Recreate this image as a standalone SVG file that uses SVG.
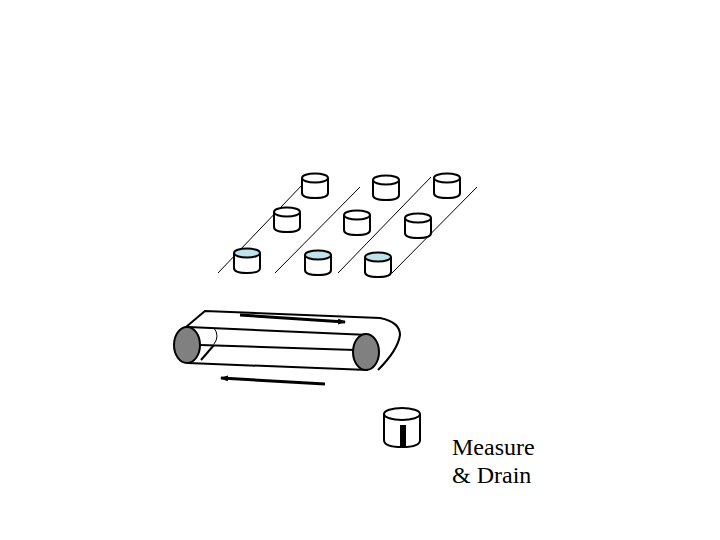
<svg xmlns="http://www.w3.org/2000/svg" width="720" height="540" viewBox="0 0 720 540">
<defs>
<style>
.c{fill:#fff;stroke:#000;stroke-width:2}
.w{fill:#bfe3ec;stroke:#000;stroke-width:2}
.l{stroke:#000;stroke-width:1;fill:none}
.b{stroke:#000;stroke-width:2;fill:none}
.r{fill:#808080;stroke:#000;stroke-width:2}
text{font-family:"Liberation Serif",serif;font-size:24px}
</style>
<g id="cup"><path class="c" d="M-13,0 V15 Q-13,20 0,20 Q13,20 13,15 V0"/><ellipse class="c" cx="0" cy="0" rx="13" ry="4.5"/></g>
<g id="cupw"><path class="c" d="M-13,0 V15 Q-13,20 0,20 Q13,20 13,15 V0"/><ellipse class="w" cx="0" cy="0" rx="13" ry="4.5"/></g>
<marker id="ah" markerWidth="8" markerHeight="6" refX="7" refY="3" orient="auto" markerUnits="userSpaceOnUse"><path d="M0,0 L8,3 L0,6 z"/></marker>
</defs>
<g id="rails">
<line class="l" x1="218" y1="273" x2="303" y2="184"/>
<line class="l" x1="275" y1="273" x2="360" y2="187"/>
<line class="l" x1="338" y1="273" x2="431" y2="177"/>
<line class="l" x1="392" y1="273" x2="477" y2="187"/>
</g>
<g id="cups">
<use href="#cup" x="315" y="178"/><use href="#cup" x="386" y="180"/><use href="#cup" x="447" y="178"/>
<use href="#cup" x="287" y="212"/><use href="#cup" x="357" y="215"/><use href="#cup" x="418" y="218"/>
<use href="#cupw" x="247" y="253"/><use href="#cupw" x="318" y="255"/><use href="#cupw" x="378" y="257"/>
</g>
<g id="conveyor">
<path class="b" d="M186,327 L205,311 L380,318 Q400,322 400,335 Q398,350 378,370"/>
<line class="b" x1="188" y1="327" x2="369" y2="335"/>
<line class="b" x1="200" y1="345" x2="355" y2="350"/>
<line class="b" x1="188" y1="363" x2="368" y2="370"/>
<line class="b" x1="201" y1="360" x2="214" y2="345"/>
<path class="l" d="M214,328 Q220,336 214,344"/>
<ellipse class="r" cx="187" cy="345" rx="13" ry="18"/>
<ellipse class="r" cx="366" cy="352" rx="13" ry="18"/>
</g>
<g id="arrows">
<line x1="240" y1="315" x2="345" y2="322" stroke="#000" stroke-width="3" marker-end="url(#ah)"/>
<line x1="325" y1="384" x2="221" y2="378" stroke="#000" stroke-width="3" marker-end="url(#ah)"/>
</g>
<g id="measure">
<path class="c" d="M384,414 V440 Q384,447 402,447 Q420,447 420,440 V414"/>
<ellipse class="c" cx="402" cy="414" rx="18" ry="6"/>
<rect x="400" y="425" width="6" height="22" fill="#000"/>
<text x="452" y="455">Measure</text>
<text x="452" y="483">&amp; Drain</text>
</g>
</svg>
